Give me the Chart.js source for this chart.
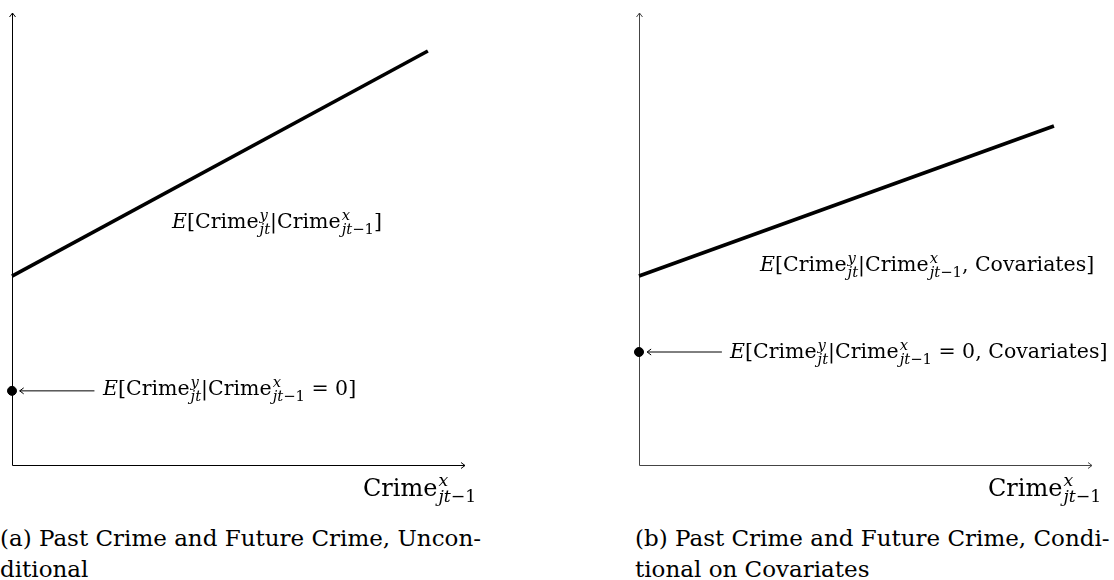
<!DOCTYPE html>
<html>
<head>
<meta charset="utf-8">
<script src="https://cdn.jsdelivr.net/npm/chart.js@4"></script>
<style>
  body { margin: 0; background: #fff; width: 1114px; height: 580px; position: relative; overflow: hidden; }
  canvas { position: absolute; top: 0; }
  .lbl { position: absolute; font-family: "DejaVu Serif", serif; color: #000; white-space: nowrap; line-height: 1; }
  .m { font-size: 20.5px; }
  .ax { font-size: 24px; }
  .cap { font-size: 23px; line-height: 31px; }
  i { font-style: italic; }
  .ss { display: inline-block; vertical-align: -0.4em; font-size: 0.72em; line-height: 0.95; margin-left: 1px; }
  .ss > span { display: block; }
</style>
</head>
<body>
<canvas id="chartA" width="490" height="480" style="left:0"></canvas>
<canvas id="chartB" width="488" height="480" style="left:626px"></canvas>

<div class="lbl m" id="labelA1" style="left:172px; top:208px"></div>
<div class="lbl m" id="labelA0" style="left:103px; top:375px"></div>
<div class="lbl m" id="labelB1" style="left:760px; top:251px"></div>
<div class="lbl m" id="labelB0" style="left:730px; top:338px"></div>
<div class="lbl ax" id="axisA" style="left:363px; top:472px"></div>
<div class="lbl ax" id="axisB" style="left:988px; top:472px"></div>
<div class="lbl cap" style="left:0; top:523px">(a) Past Crime and Future Crime, Uncon-<br>ditional</div>
<div class="lbl cap" style="left:635px; top:523px">(b) Past Crime and Future Crime, Condi-<br>tional on Covariates</div>

<script>
// Both panels use a unitless 0..10 scale
const xRange = [0, 10];
const yRange = [0, 10];

// Panel (a): unconditional
const lineAx = [0, 9.18];
const lineAy = [4.18, 9.16];
const interceptA = 1.64;
const pointerAx = [1.82, 0.17];

// Panel (b): conditional on covariates
const lineBx = [0, 9.16];
const lineBy = [4.18, 7.5];
const interceptB = 2.5;
const pointerBx = [1.83, 0.18];

// Helper for Crime with stacked super/subscripts
function crime(sup, sub) {
  return 'Crime<span class="ss"><span>' + sup + '</span><span>' + sub + '</span></span>';
}
const jt = '<i>jt</i>';
const jt1 = '<i>jt</i>\u22121';

document.getElementById('labelA1').innerHTML =
  '<i>E</i>[' + crime('<i>y</i>', jt) + '|' + crime('<i>x</i>', jt1) + ']';
document.getElementById('labelA0').innerHTML =
  '<i>E</i>[' + crime('<i>y</i>', jt) + '|' + crime('<i>x</i>', jt1) + ' = 0]';
document.getElementById('labelB1').innerHTML =
  '<i>E</i>[' + crime('<i>y</i>', jt) + '|' + crime('<i>x</i>', jt1) + ', Covariates]';
document.getElementById('labelB0').innerHTML =
  '<i>E</i>[' + crime('<i>y</i>', jt) + '|' + crime('<i>x</i>', jt1) + ' = 0, Covariates]';
document.getElementById('axisA').innerHTML = crime('<i>x</i>', jt1);
document.getElementById('axisB').innerHTML = crime('<i>x</i>', jt1);

// Draw axes with open arrowheads, plus the head of the pointer arrow
const axesPlugin = {
  id: 'axesPlugin',
  beforeDatasetsDraw(chart, args, opts) {
    const { ctx, chartArea: a } = chart;
    const x0 = a.left + 0.5;
    const y0 = Math.round(a.bottom) + 0.5;
    ctx.save();
    ctx.strokeStyle = opts.color;
    ctx.lineWidth = 1;
    ctx.beginPath();
    ctx.moveTo(x0, y0);
    ctx.lineTo(x0, a.top);
    ctx.moveTo(x0, y0);
    ctx.lineTo(a.right, y0);
    // arrowheads
    ctx.moveTo(x0 - 3, a.top + 4);
    ctx.lineTo(x0, a.top);
    ctx.lineTo(x0 + 3, a.top + 4);
    ctx.moveTo(a.right - 4, y0 - 3);
    ctx.lineTo(a.right, y0);
    ctx.lineTo(a.right - 4, y0 + 3);
    ctx.stroke();
    ctx.restore();
  },
  afterDatasetsDraw(chart) {
    const { ctx } = chart;
    const meta = chart.getDatasetMeta(2);
    const tip = meta.data[1];
    ctx.save();
    ctx.strokeStyle = '#000';
    ctx.lineWidth = 1;
    ctx.beginPath();
    ctx.moveTo(tip.x + 4, tip.y - 3);
    ctx.lineTo(tip.x, tip.y);
    ctx.lineTo(tip.x + 4, tip.y + 3);
    ctx.stroke();
    ctx.restore();
  }
};

function makeChart(id, lx, ly, intercept, px, pad, axisColor) {
  const ctx = document.getElementById(id).getContext('2d');
  return new Chart(ctx, {
    type: 'scatter',
    data: {
      datasets: [
        {
          data: lx.map((x, i) => ({ x: x, y: ly[i] })),
          showLine: true,
          borderColor: '#000',
          borderWidth: 3.6,
          pointRadius: 0,
          clip: false
        },
        {
          data: [{ x: 0, y: intercept }],
          backgroundColor: '#000',
          borderColor: '#000',
          pointRadius: 4.5,
          clip: false
        },
        {
          data: px.map(x => ({ x: x, y: intercept })),
          showLine: true,
          borderColor: '#000',
          borderWidth: 1,
          pointRadius: 0,
          clip: false
        }
      ]
    },
    options: {
      responsive: false,
      animation: false,
      layout: { padding: pad },
      scales: {
        x: { display: false, min: xRange[0], max: xRange[1] },
        y: { display: false, min: yRange[0], max: yRange[1] }
      },
      plugins: {
        legend: { display: false },
        tooltip: { enabled: false },
        axesPlugin: { color: axisColor }
      }
    },
    plugins: [axesPlugin]
  });
}

makeChart('chartA', lineAx, lineAy, interceptA, pointerAx,
  { left: 12, top: 13, right: 25, bottom: 15 }, '#000');
makeChart('chartB', lineBx, lineBy, interceptB, pointerBx,
  { left: 13, top: 13, right: 22, bottom: 15 }, '#444');
</script>
</body>
</html>
